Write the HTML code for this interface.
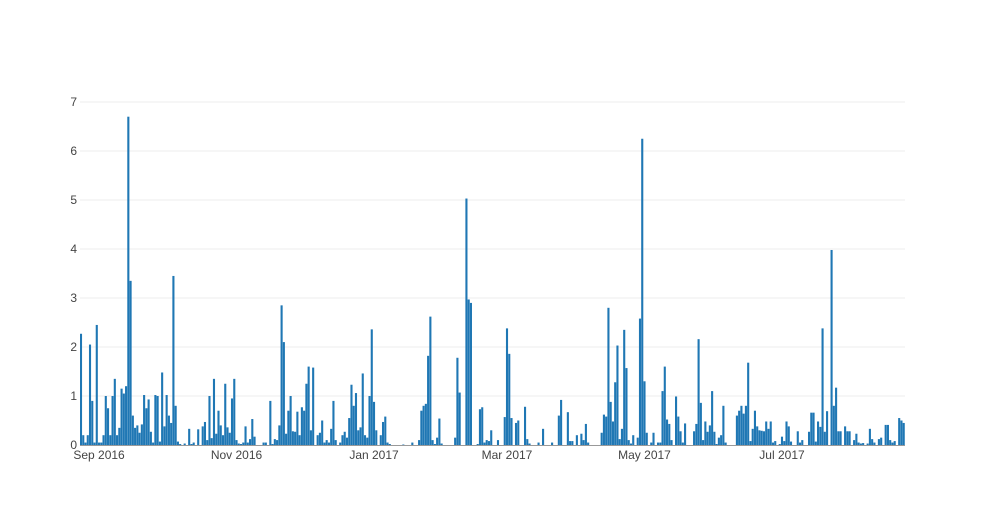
<!DOCTYPE html>
<html><head><meta charset="utf-8"><style>
body{margin:0;background:#fff;}
svg text{font-family:"Liberation Sans",sans-serif;font-size:12px;fill:#444;}
</style></head><body>
<svg id="chart" width="985" height="525" xmlns="http://www.w3.org/2000/svg">
<g id="grid"></g>
<g id="bars"></g>
<g id="yticks"></g>
<g id="xticks"></g>
</svg>
<script>
// days since 2016-08-24
const dayOffsets=[0,1,2,3,4,5,6,7,8,9,10,11,12,13,14,15,16,17,18,19,20,21,22,23,24,25,26,27,28,29,30,31,32,33,34,35,36,37,38,39,40,41,42,43,44,46,48,49,50,52,54,55,56,57,58,59,60,61,62,63,64,65,66,67,68,69,70,71,72,73,74,75,76,77,81,82,84,85,86,
87,88,89,90,91,92,93,94,95,96,97,98,99,100,101,102,103,105,106,107,108,109,110,111,112,113,115,116,117,118,119,120,121,122,123,124,125,126,127,128,129,130,131,133,134,135,136,137,143,147,150,151,152,153,154,155,156,157,158,159,160,166,167,168,171,172,173,176,177,178,179,180,
181,182,185,188,189,190,191,193,194,197,198,199,203,205,209,212,213,216,217,218,220,222,223,224,225,231,232,233,234,235,236,237,238,239,240,241,242,243,244,245,247,248,249,250,251,253,254,256,257,258,259,260,261,262,264,265,266,267,268,
272,273,274,275,276,277,278,279,280,281,282,283,284,285,286,291,292,293,294,295,296,297,298,299,300,301,302,303,304,305,306,307,308,310,311,312,313,314,315,318,319,320,323,324,325,326,327,328,329,330,331,333,334,335,336,337,339,340,341,343,344,345,346,347,349,350,351,352,354,355,357,358,359,360,361,363,364,365];
const values=[2.27,0.2,0.05,0.2,2.05,0.9,0.05,2.45,0.05,0.05,0.2,1.0,0.75,0.2,1.0,1.35,0.2,0.35,1.15,1.05,1.2,6.7,3.35,0.6,0.35,0.4,0.25,0.42,1.02,0.75,0.93,0.27,0.05,1.02,1.0,0.07,1.48,0.38,1.02,0.6,0.45,3.45,0.8,0.07,0.02,0.03,0.33,0.02,0.05,0.32,0.38,0.47,0.1,1.0,0.14,1.35,0.23,0.7,0.4,0.2,1.25,0.36,0.25,0.95,1.35,0.1,0.03,0.02,0.05,0.38,0.05,0.12,0.53,0.17,0.05,0.05,0.9,0.02,0.12,
0.1,0.4,2.85,2.1,0.23,0.7,1.0,0.28,0.27,0.68,0.2,0.77,0.7,1.25,1.6,0.3,1.58,0.2,0.25,0.5,0.05,0.1,0.05,0.33,0.9,0.1,0.05,0.2,0.27,0.15,0.55,1.23,0.8,1.06,0.3,0.36,1.46,0.2,0.15,1.0,2.36,0.88,0.3,0.2,0.47,0.58,0.05,0.02,0.01,0.05,0.1,0.7,0.8,0.84,1.82,2.62,0.1,0.02,0.15,0.54,0.03,0.15,1.78,1.07,5.03,2.97,2.9,0.02,0.73,0.77,0.05,0.1,
0.08,0.3,0.1,0.57,2.38,1.86,0.55,0.45,0.5,0.78,0.12,0.03,0.05,0.33,0.05,0.6,0.92,0.67,0.08,0.08,0.2,0.23,0.1,0.43,0.05,0.25,0.62,0.58,2.8,0.88,0.48,1.28,2.03,0.12,0.33,2.35,1.57,0.1,0.03,0.2,0.15,2.58,6.25,1.3,0.25,0.05,0.25,0.05,0.05,1.1,1.6,0.52,0.43,0.1,0.99,0.58,0.28,0.05,0.44,
0.28,0.43,2.16,0.86,0.1,0.48,0.27,0.4,1.1,0.27,0.02,0.15,0.2,0.8,0.05,0.6,0.7,0.8,0.64,0.8,1.68,0.08,0.33,0.7,0.38,0.3,0.29,0.28,0.48,0.33,0.48,0.05,0.08,0.02,0.17,0.08,0.48,0.38,0.07,0.28,0.05,0.1,0.27,0.66,0.66,0.07,0.48,0.37,2.38,0.27,0.69,3.98,0.8,1.17,0.28,0.28,0.38,0.28,0.28,0.1,0.23,0.05,0.03,0.04,0.03,0.33,0.12,0.05,0.12,0.15,0.41,0.41,0.1,0.05,0.08,0.55,0.5,0.45];
const yTicks=[0,1,2,3,4,5,6,7];
const xTickDays=[8,69,130,189,250,311];
const xTickLabels=["Sep 2016","Nov 2016","Jan 2017","Mar 2017","May 2017","Jul 2017"];

const NS="http://www.w3.org/2000/svg";
const L=80,R=905,Y0=445,YT=102;
const x=d=>81+d*2.254;
const y=v=>Y0-(v/7)*(Y0-YT);
function mk(t,a,p){const e=document.createElementNS(NS,t);for(const k in a)e.setAttribute(k,a[k]);p.appendChild(e);return e;}
const grid=document.getElementById('grid'),bars=document.getElementById('bars'),yt=document.getElementById('yticks'),xt=document.getElementById('xticks');
yTicks.forEach(v=>{
  if(v>0){const g=mk('line',{x1:L,x2:R,y1:y(v),y2:y(v),stroke:'#eeeeee','stroke-width':1},grid);
  
  }
  const t=mk('text',{x:77,y:y(v)+4,'text-anchor':'end'},yt);t.textContent=v;
  
  
});
dayOffsets.forEach((d,i)=>{
  const v=values[i];const cx=x(d);
  let x0=Math.max(L,cx-1.05),x1=Math.min(R,cx+1.05);
  const b=mk('rect',{x:x0,y:y(v),width:Math.max(0,x1-x0),height:Y0-y(v),fill:'#1f77b4'},bars);
  
  
});
const base=mk('line',{x1:L,x2:R,y1:Y0+0.5,y2:Y0+0.5,stroke:'#999','stroke-width':1},grid);


xTickDays.forEach((d,i)=>{
  const t=mk('text',{x:x(d),y:459,'text-anchor':'middle'},xt);t.textContent=xTickLabels[i];
  
  
});
</script>
</body></html>
